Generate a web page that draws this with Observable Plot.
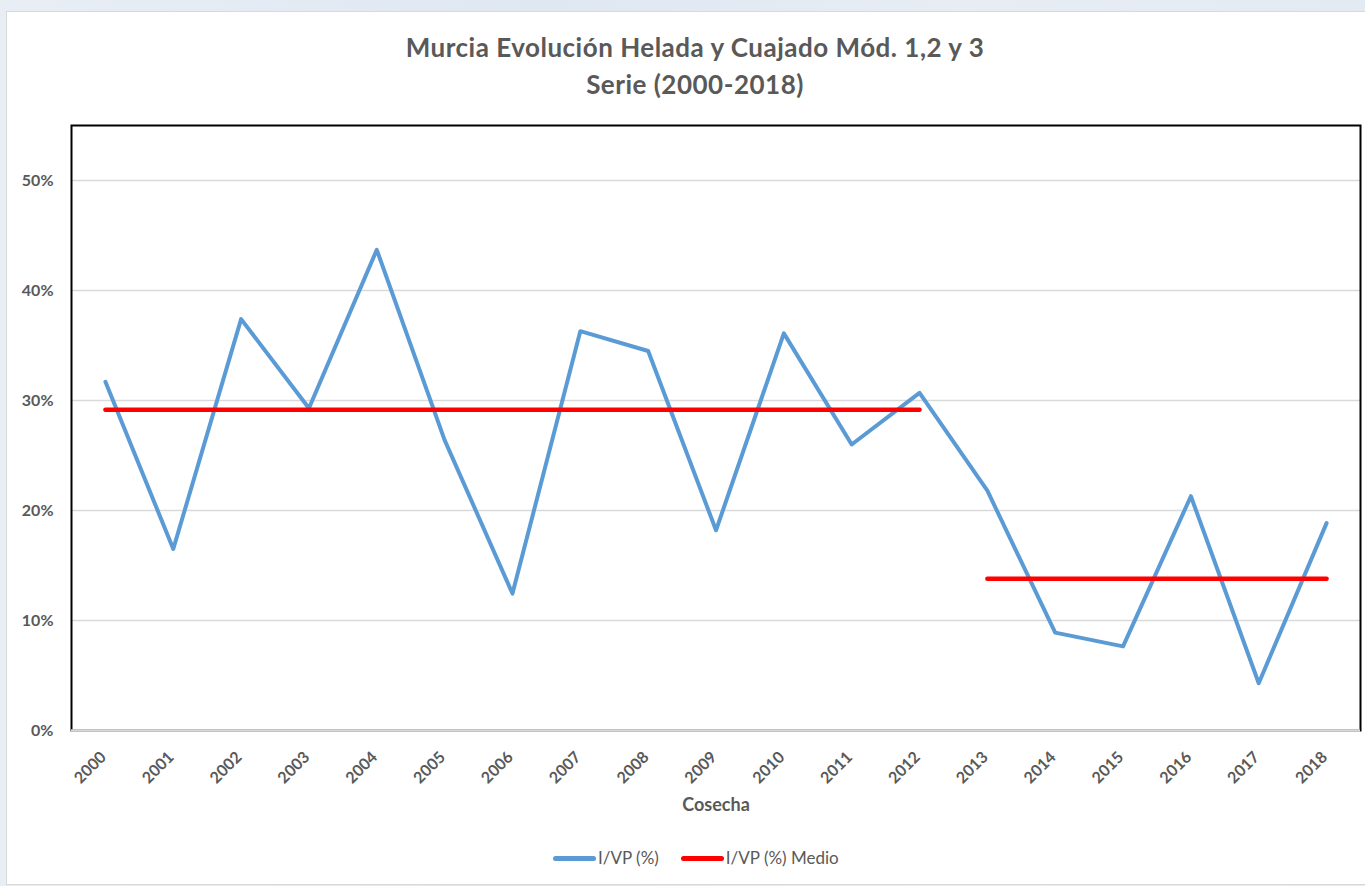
<!DOCTYPE html>
<html>
<head>
<meta charset="utf-8">
<script src="https://cdn.jsdelivr.net/npm/d3@7"></script>
<script src="https://cdn.jsdelivr.net/npm/@observablehq/plot@0.6"></script>
<style>
  html, body { margin: 0; padding: 0; }
  body { width: 1365px; height: 886px; position: relative; overflow: hidden;
         background: linear-gradient(90deg, #e9eef5, #dfe7f1 40%, #e8edf4 70%, #e3eaf2); font-family: Lato, "Open Sans", sans-serif; }
  #card { position: absolute; left: 6px; top: 11px; width: 1380px; height: 872px; background: #fff;
          border: 1.5px solid #d9d9d9; }
  .title { position: absolute; left: 0; width: 1390px; text-align: center; color: #595959;
           font-weight: 700; font-size: 26px; letter-spacing: 0.5px; line-height: 30px; }
  #chart { position: absolute; left: 0; top: 110px; }
  #legend { position: absolute; left: 553px; top: 846px; display: flex; align-items: center;
            color: #595959; font-size: 17px; line-height: 24px; }
  .sw { display: inline-block; width: 43px; height: 5px; border-radius: 3px; margin-right: 2px; }
</style>
</head>
<body>
<div id="card"></div>
<div class="title" style="top:32px">Murcia Evolución Helada y Cuajado Mód. 1,2 y 3</div>
<div class="title" style="top:69px">Serie (2000-2018)</div>
<div id="chart"></div>
<div id="legend">
  <span class="sw" style="background:#5b9bd5"></span><span>I/VP (%)</span>
  <span class="sw" style="background:#ff0000; margin-left:22px"></span><span>I/VP (%) Medio</span>
</div>
<script>
const years = ["2000","2001","2002","2003","2004","2005","2006","2007","2008","2009","2010","2011","2012","2013","2014","2015","2016","2017","2018"];
const ivp = [31.7, 16.5, 37.4, 29.3, 43.7, 26.4, 12.45, 36.3, 34.5, 18.2, 36.1, 26.0, 30.7, 21.8, 8.9, 7.65, 21.3, 4.3, 18.85];
const ivpMedio = [29.15, 29.15, 29.15, 29.15, 29.15, 29.15, 29.15, 29.15, 29.15, 29.15, 29.15, 29.15, 29.15, 13.8, 13.8, 13.8, 13.8, 13.8, 13.8];
const tramo = ["2000-2012","2000-2012","2000-2012","2000-2012","2000-2012","2000-2012","2000-2012","2000-2012","2000-2012","2000-2012","2000-2012","2000-2012","2000-2012","2013-2018","2013-2018","2013-2018","2013-2018","2013-2018","2013-2018"];
const yTicks = [0, 10, 20, 30, 40, 50];
const gridTicks = [10, 20, 30, 40, 50];
const xLabel = "Cosecha";

const rows = years.map((y, i) => ({year: y, ivp: ivp[i], medio: ivpMedio[i], tramo: tramo[i]}));

const textColor = "#595959";
const chart = Plot.plot({
  width: 1365,
  height: 720,
  marginLeft: 71,
  marginRight: 5,
  marginTop: 15,
  marginBottom: 100,
  style: {fontFamily: "Lato, 'Open Sans', sans-serif", fontWeight: "bold", color: textColor, background: "transparent", overflow: "visible"},
  x: {type: "point", domain: years, padding: 0.5, round: false},
  y: {domain: [0, 55]},
  marks: [
    Plot.ruleY(gridTicks, {stroke: "#d9d9d9", strokeWidth: 1.5}),
    Plot.frame({stroke: "#000", strokeWidth: 2}),
    Plot.ruleY([0], {stroke: "#d9d9d9", strokeWidth: 2.5}),
    Plot.axisY({ticks: yTicks, tickFormat: d => d + "%", tickSize: 0, tickPadding: 18, fontSize: 16, fontWeight: "bold", fill: textColor, label: null}),
    Plot.axisX({tickRotate: -45, tickSize: 0, tickPadding: 24, dx: -2, fontSize: 16, fontWeight: "bold", fill: textColor, label: null}),
    Plot.text([xLabel], {text: d => d, frameAnchor: "bottom", dy: 80, fontSize: 18, fontWeight: "bold", fill: textColor}),
    Plot.line(rows, {x: "year", y: "ivp", stroke: "#5b9bd5", strokeWidth: 4, strokeLinejoin: "round", strokeLinecap: "round"}),
    Plot.line(rows, {x: "year", y: "medio", z: "tramo", stroke: "#ff0000", strokeWidth: 4.5, strokeLinecap: "round"})
  ]
});
document.getElementById("chart").appendChild(chart);
</script>
</body>
</html>
